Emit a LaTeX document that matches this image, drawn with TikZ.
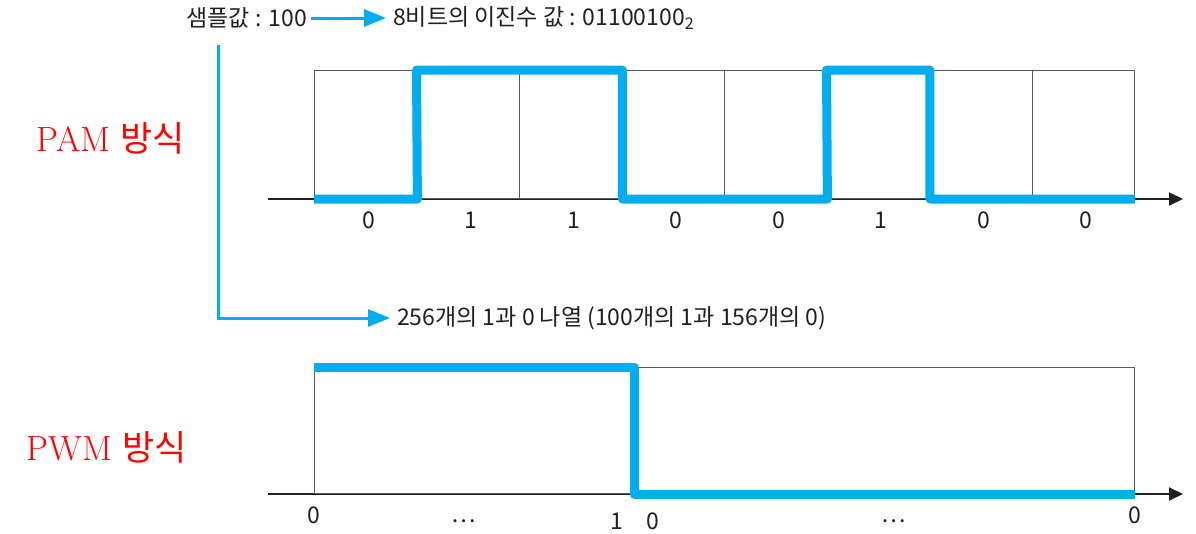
\documentclass[tikz,border=0pt]{standalone}
\usepackage{fontspec}
\newfontfamily\krfont{Noto Sans CJK KR}
\usetikzlibrary{positioning}
\usetikzlibrary{calc,arrows.meta}
\definecolor{sigblue}{HTML}{00AEEF}
\definecolor{axisblack}{HTML}{231F20}

\begin{document}
\begin{tikzpicture}[x=1pt,y=-1pt,
cellnode/.style={rectangle, draw=black!65, line width=0.9pt, minimum width=102.5pt, minimum height=128pt, inner sep=0pt, anchor=south west},
pwmnode/.style={rectangle, draw=black!65, line width=0.9pt, minimum width=820pt, minimum height=126pt, inner sep=0pt, anchor=south west},
bitnode/.style={font=\krfont\fontsize{23}{23}\selectfont, inner sep=0pt, text=axisblack},
textnode/.style={font=\krfont\fontsize{23}{23}\selectfont, inner sep=2pt, text=axisblack},
titlenode/.style={text=red, font=\fontsize{35}{35}\selectfont},
signal/.style={sigblue, line width=9pt, line join=round},
pointer/.style={sigblue, line width=3pt, -{Triangle[length=22pt,width=17pt]}},
axis/.style={axisblack, line width=2pt, -{Triangle[length=14pt,width=13pt]}},
]
\useasboundingbox (0,0) rectangle (1196,533);
%Nodes
\node[textnode, anchor=east, inner xsep=4pt] (sample)   at (311,18)  {샘플값 : 100};
\node[textnode, anchor=west, inner xsep=7pt] (binary)   at (386,18)  {8비트의 이진수 값 : 01100100\textsubscript{2}};
\node[textnode, anchor=west, inner xsep=7pt] (sequence) at (390,318) {256개의 1과 0 나열 (100개의 1과 156개의 0)};
\node[titlenode]                             (pamtitle) at (111,138) {PAM {\krfont 방식}};
\node[titlenode]                             (pwmtitle) at (107,447) {PWM {\krfont 방식}};
\coordinate (branch)   at (218,45);
\coordinate (pamstart) at (268,199);
\coordinate (pamend)   at (1183,199);
\coordinate (pwmstart) at (268,494);
\coordinate (pwmend)   at (1183,494);
\coordinate (pwmedge)  at (634,494);
%Lines
\draw[axis] (pamstart) -- (pamend);
\draw[axis] (pwmstart) -- (pwmend);
\foreach \i in {1,...,8}
  \node[cellnode] (c\i) at ({314+102.5*(\i-1)},199) {};
\node[pwmnode] (pwm) at (314,494) {};
\draw[signal] (c1.south west) -- (c1.south east) -- (c2.north west)
  -- (c3.north east) -- (c3.south east) -- (c5.south east)
  -- (c6.north west) -- (c6.north east) -- (c6.south east) -- (c8.south east);
\draw[signal] (pwm.north west) -- (pwmedge |- pwm.north) -- (pwmedge) -- (pwm.south east);
\draw[pointer] (sample.east) -- (binary.west);
\draw[pointer] (branch) |- (sequence.west);
%Text
\foreach \b [count=\i] in {0,1,1,0,0,1,0,0}
  \node[bitnode, below=13pt of c\i.south, xshift=3pt] (b\i) {\b};
\node[bitnode, below=13pt of pwm.south west] (p1) {0};
\node[bitnode] (p2) at (464,521) {…};
\node[bitnode] (p3) at (617,521) {1};
\node[bitnode] (p4) at (653,521) {0};
\node[bitnode] (p5) at (894,521) {…};
\node[bitnode, below=13pt of pwm.south east] (p6) {0};

\end{tikzpicture}
\end{document}
